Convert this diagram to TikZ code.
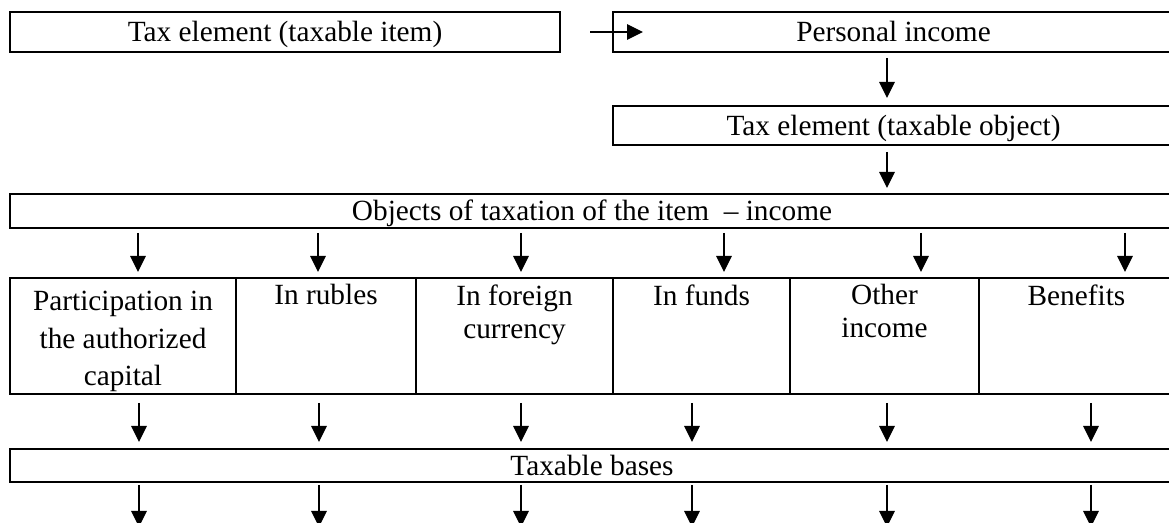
\documentclass[tikz,border=0pt]{standalone}
\usepackage{fontspec}
\setmainfont{Liberation Serif}
\usetikzlibrary{arrows.meta}

\tikzset{
    box/.style={draw,line width=1pt,inner sep=0pt,outer sep=0pt,anchor=north west,text height=10pt,text depth=0pt},
    cell/.style={box,minimum width=#1,minimum height=58pt},
    celltext/.style={anchor=north,align=center,inner sep=0pt},
    arr/.style={line width=0.65pt,-{Triangle[length=8pt,width=7.8pt]}},
}

\begin{document}
\begin{tikzpicture}[x=0.5pt,y=-0.5pt,font=\fontsize{14.65}{16.5}\selectfont]
    \useasboundingbox (0,0) rectangle (1169,523);
    \clip (0,0) rectangle (1169,523);
    % upper boxes
    \node [box,minimum width=275pt,minimum height=20pt] (item) at (10,12) {Tax element (taxable item)};
    \node [box,minimum width=280.5pt,minimum height=20pt] (income) at (613,12) {Personal income};
    \node [box,minimum width=280.5pt,minimum height=19.5pt] (object) at (613,106) {Tax element (taxable object)};
    \node [box,minimum width=582pt,minimum height=17pt] (objects) at (10,194) {Objects of taxation of the item\ \ -- income};
    % row of cells
    \node [cell=113pt]  (c1) at (10,278)  {};
    \node [cell=90pt]   (c2) at (236,278) {};
    \node [cell=98.5pt] (c3) at (416,278) {};
    \node [cell=88.5pt] (c4) at (613,278) {};
    \node [cell=94.5pt] (c5) at (790,278) {};
    \node [cell=97.5pt] (c6) at (979,278) {};
    \node [celltext,font=\fontsize{14.65}{18.75}\selectfont] (l1) at ([yshift=-6.5pt]c1.north) {Participation in\\the authorized\\capital};
    \node [celltext] (l2) at ([yshift=-3pt]c2.north) {In rubles};
    \node [celltext] (l3) at ([yshift=-3pt]c3.north) {In foreign\\currency};
    \node [celltext] (l4) at ([yshift=-3pt]c4.north) {In funds};
    \node [celltext] (l5) at ([yshift=-3pt]c5.north) {Other\\income};
    \node [celltext] (l6) at ([yshift=-3pt]c6.north) {Benefits};
    \node [box,minimum width=582pt,minimum height=16.5pt] (bases) at (10,449) {Taxable bases};
    % arrows
    \draw [arr] ([xshift=15pt]item.east) -- ([xshift=15pt]income.west);
    \draw [arr] ([xshift=-3.25pt,yshift=-3pt]income.south) -- ([xshift=-3.25pt,yshift=4pt]object.north);
    \draw [arr] ([xshift=-3.25pt,yshift=-3.5pt]object.south) -- ++(0,36);
    \foreach \x [count=\i] in {138,318,521,724,921,1125}
        \coordinate (u\i) at (\x,0);
    \foreach \x [count=\i] in {139,319,521,692,887,1091}
        \coordinate (d\i) at (\x,0);
    \foreach \i in {1,...,6}{
        \draw [arr] (objects.south -| u\i) ++(0,5) -- ++(0,39);
        \draw [arr] (c1.south -| d\i) ++(0,9) -- ++(0,39);
        \draw [arr] (bases.south -| d\i) ++(0,3) -- ++(0,42);
    }
\end{tikzpicture}
\end{document}
